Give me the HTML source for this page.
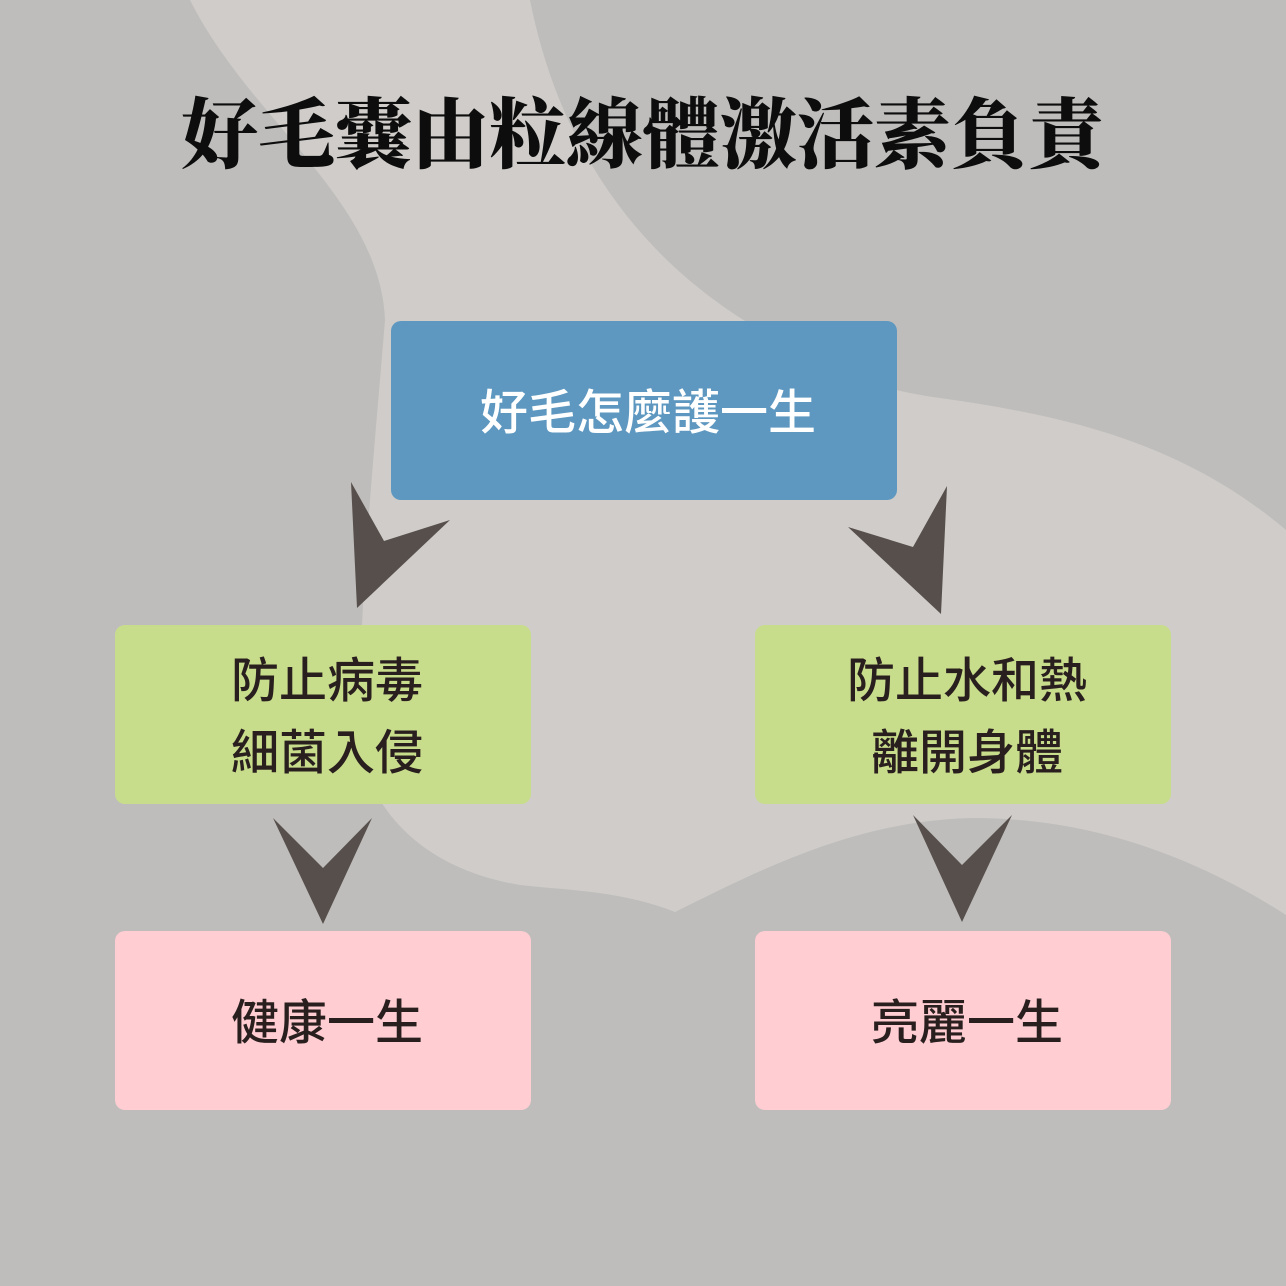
<!DOCTYPE html>
<html><head><meta charset="utf-8"><style>
html,body{margin:0;padding:0}
body{width:1286px;height:1286px;position:relative;background:#bebdbb;overflow:hidden;font-family:"Liberation Sans","Noto Sans CJK TC",sans-serif}
svg{position:absolute;left:0;top:0}
.t{position:absolute;left:0;width:1286px;top:88px;text-align:center;font-family:"Liberation Serif","Noto Serif CJK SC",serif;font-weight:900;font-size:77px;line-height:96px;color:#0d0d0d;letter-spacing:0px}
.b{position:absolute;box-sizing:border-box;padding-left:8px;padding-top:6px;border-radius:10px;display:flex;align-items:center;justify-content:center;text-align:center;font-size:48px;line-height:72px;color:#2a1f1f;font-weight:500}
</style></head><body>
<svg width="1286" height="1286">
<path d="M190 0 L530 0 C560 150 640 260 760 330 C820 370 880 390 940 398 C1060 415 1180 440 1286 530 L1286 915 C1200 860 1100 820 980 818 C860 818 760 870 675 912 C620 890 560 890 520 885 C430 870 380 820 362 760 C355 650 370 500 385 320 C380 200 250 120 190 0 Z" fill="#cfccc9"/>
<g fill="#574f4b">
<polygon points="351,482 384,541 450,520 357,608"/>
<polygon points="947,486 913,547 848,527 941,614"/>
<polygon points="273,818 323,868 372,818 323,924"/>
<polygon points="913,815 962,865 1012,815 962,922"/>
</g>
</svg>
<div class="t">好毛囊由粒線體激活素負責</div>
<div class="b" style="left:391px;top:321px;width:506px;height:179px;background:#5e98c0;color:#fff">好毛怎麼護一生</div>
<div class="b" style="left:115px;top:625px;width:416px;height:179px;background:#c8dd8b">防止病毒<br>細菌入侵</div>
<div class="b" style="left:755px;top:625px;width:416px;height:179px;background:#c8dd8b">防止水和熱<br>離開身體</div>
<div class="b" style="left:115px;top:931px;width:416px;height:179px;background:#ffcdd2">健康一生</div>
<div class="b" style="left:755px;top:931px;width:416px;height:179px;background:#ffcdd2">亮麗一生</div>
</body></html>
